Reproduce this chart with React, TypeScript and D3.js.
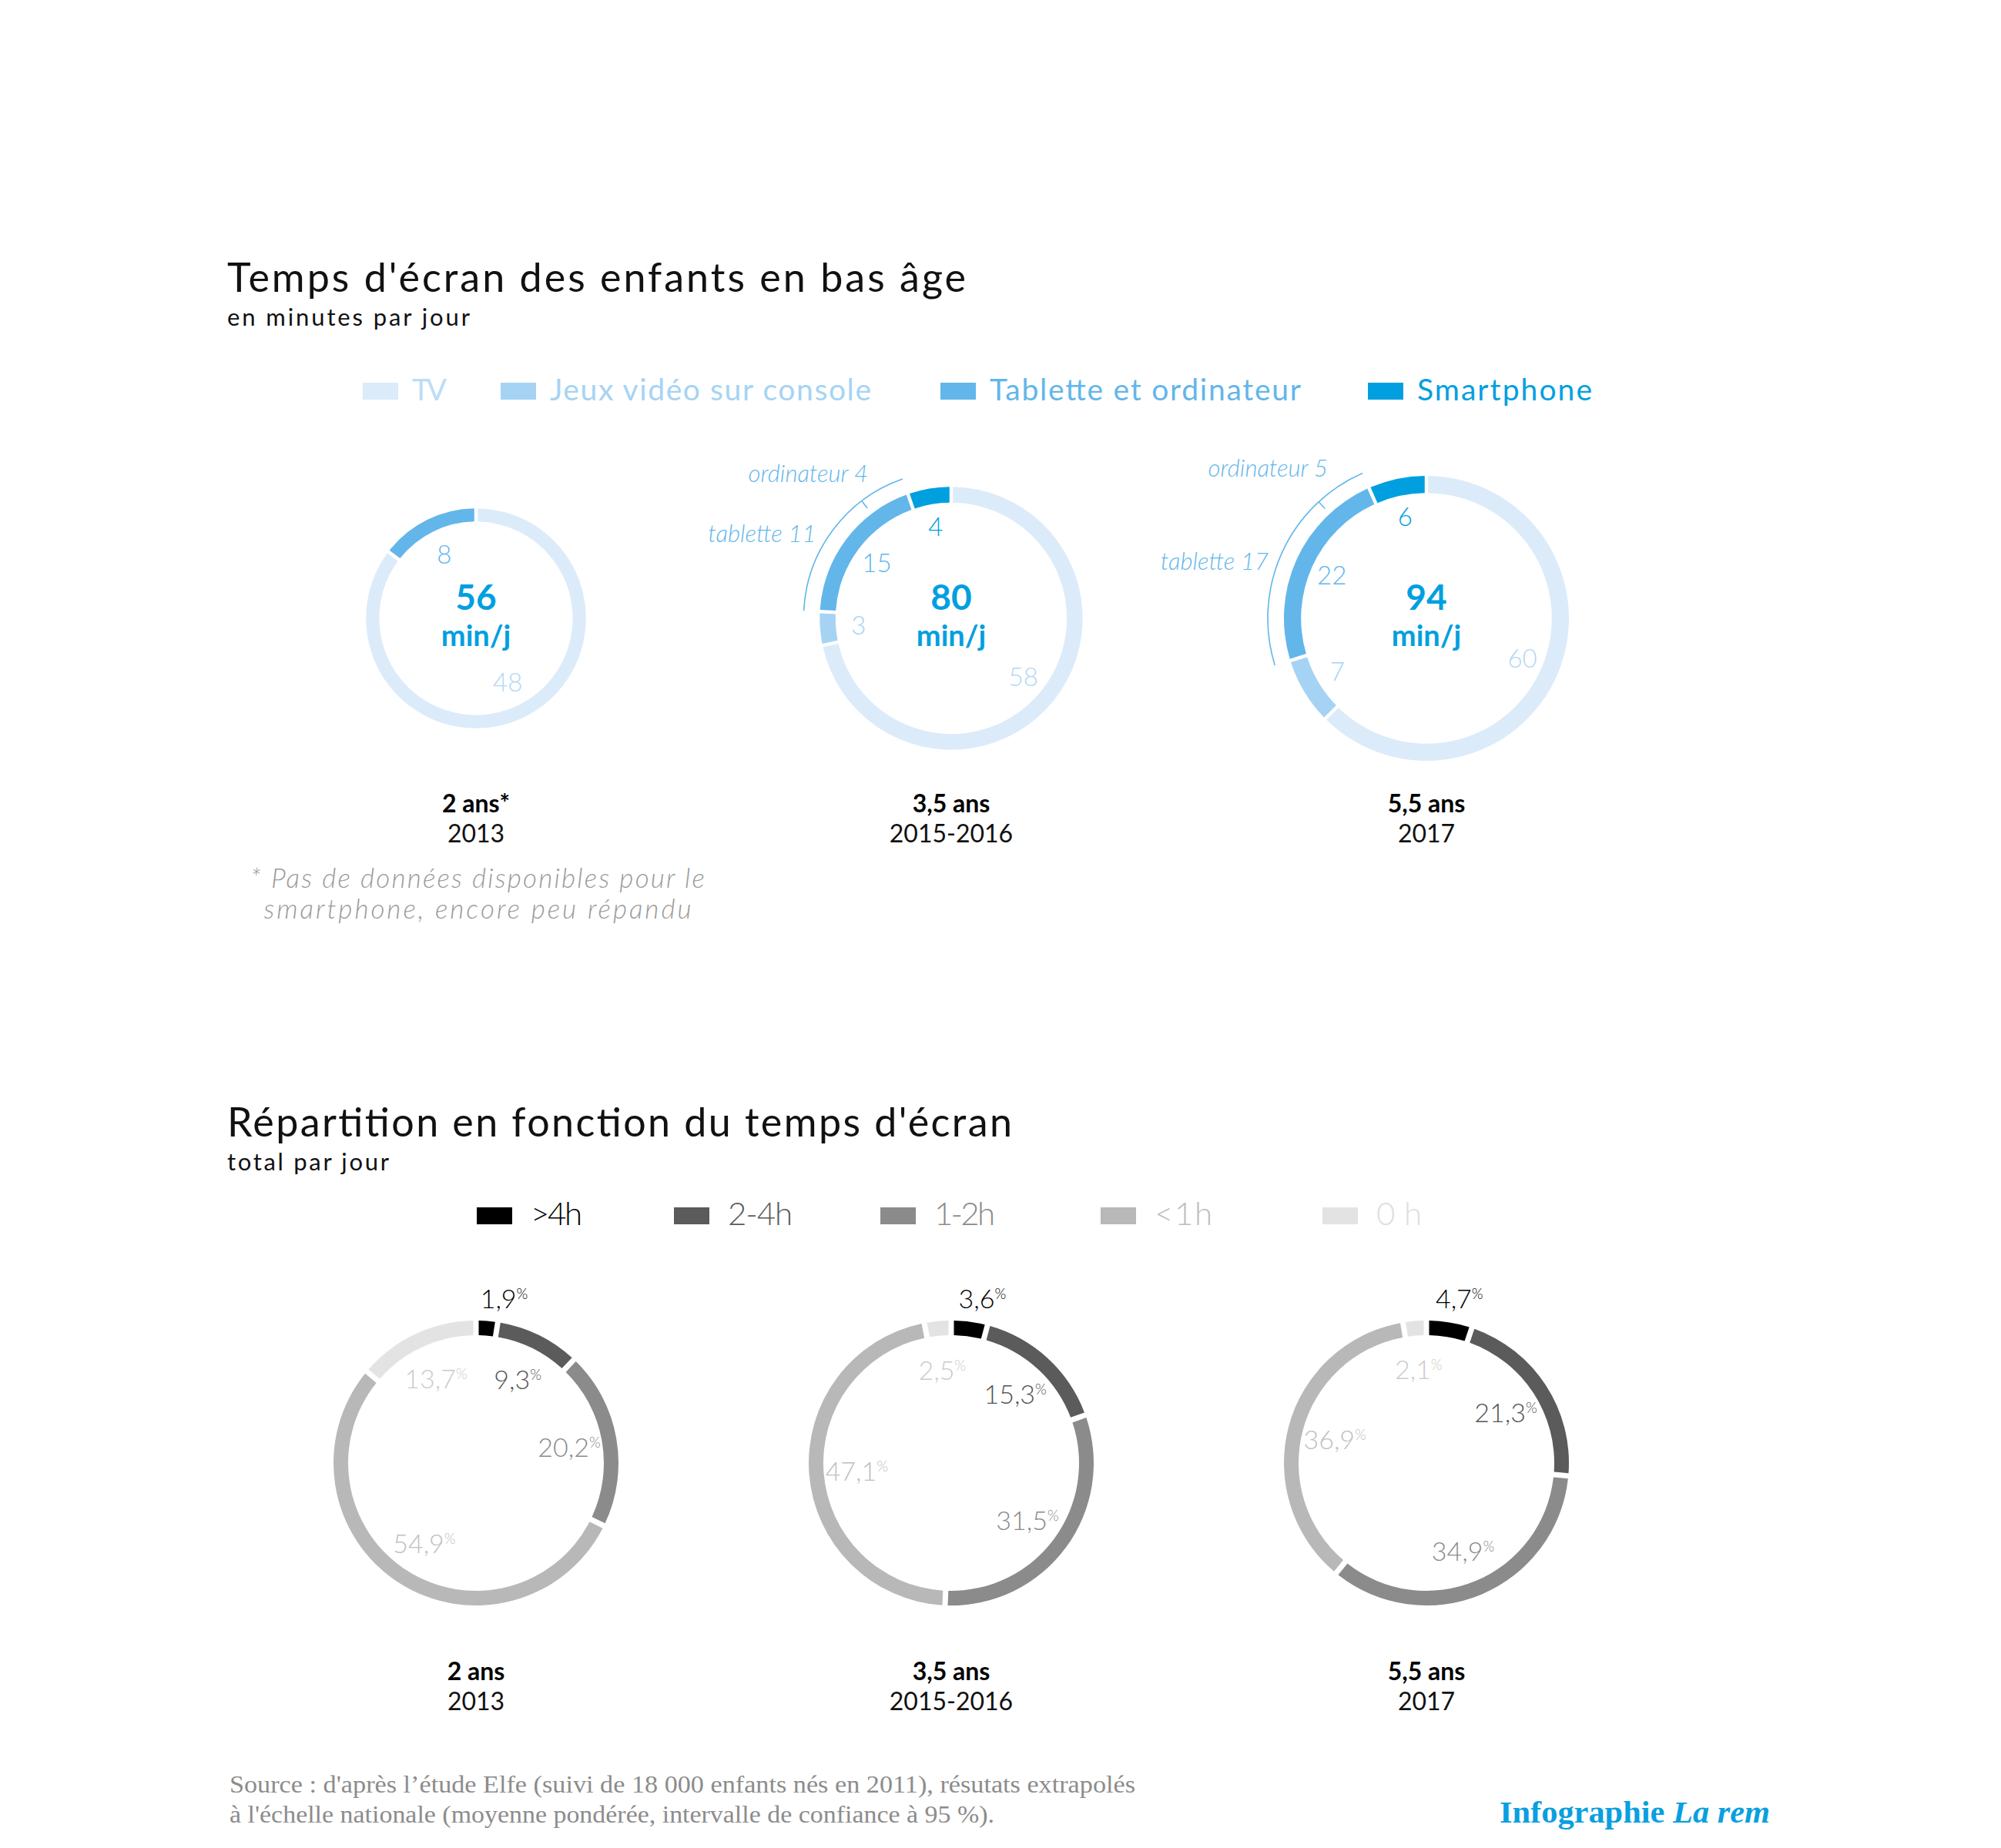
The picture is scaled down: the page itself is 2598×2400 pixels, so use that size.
import React from "react";
import * as d3 from "d3";

// ---------- Data: top (minutes per day) ----------
const topAgeLabels = ["2 ans*", "3,5 ans", "5,5 ans"];
const topYearLabels = ["2013", "2015-2016", "2017"];
const topTotals = [56, 80, 94];
const tvMinutes = [48, 58, 60];
const consoleMinutes = [0, 3, 7];
const tabletComputerMinutes = [8, 15, 22];
const smartphoneMinutes = [0, 4, 6];
const tabletOnlyMinutes = [0, 11, 17];
const computerOnlyMinutes = [0, 4, 5];
const topSeriesNames = ["TV", "Jeux vidéo sur console", "Tablette et ordinateur", "Smartphone"];
const topSeriesColors = ["#dbebfa", "#a6d3f4", "#63b6ea", "#009fe0"];
const topLabelColors = ["#b3d7f4", "#a6d3f4", "#63b6ea", "#009fe0"];
const topLegendTextColors = ["#bcdcf6", "#a6d3f4", "#63b6ea", "#009fe0"];

// ---------- Data: bottom (share by screen time) ----------
const bottomAgeLabels = ["2 ans", "3,5 ans", "5,5 ans"];
const bottomYearLabels = ["2013", "2015-2016", "2017"];
const over4h = [1.9, 3.6, 4.7];
const from2to4h = [9.3, 15.3, 21.3];
const from1to2h = [20.2, 31.5, 34.9];
const under1h = [54.9, 47.1, 36.9];
const zeroHour = [13.7, 2.5, 2.1];
const bottomSeriesNames = [">4h", "2-4h", "1-2h", "<1h", "0 h"];
const bottomSeriesColors = ["#000000", "#5b5b5b", "#8b8b8b", "#b8b8b8", "#e3e3e3"];
const bottomLabelColors = ["#000000", "#555555", "#8a8a8a", "#c0c0c0", "#cbcbcb"];
const bottomLegendTextColors = ["#000000", "#5b5b5b", "#8b8b8b", "#bdbdbd", "#dedede"];

// ---------- Texts ----------
const titleTop = "Temps d'écran des enfants en bas âge";
const subtitleTop = "en minutes par jour";
const titleBottom = "Répartition en fonction du temps d'écran";
const subtitleBottom = "total par jour";
const footnoteLines = ["* Pas de données disponibles pour le", "smartphone, encore peu répandu"];
const sourceLines = [
  "Source : d'après l’étude Elfe (suivi de 18 000 enfants nés en 2011), résutats extrapolés",
  "à l'échelle nationale (moyenne pondérée, intervalle de confiance à 95 %).",
];
const unitLabel = "min/j";

// ---------- Layout (not data) ----------
const W = 2598;
const H = 2400;
const topLegendX = [471, 650, 1221, 1776];
const topLegendTextW = [45, 417, 404, 227];
const bottomLegendX = [619, 875, 1143, 1429, 1717];
const bottomLegendTextW = [67, 84, 79, 75, 59];

const topSeriesValues = [tvMinutes, consoleMinutes, tabletComputerMinutes, smartphoneMinutes];
const bottomSeriesValues = [over4h, from2to4h, from1to2h, under1h, zeroHour];

const SANS = "Lato, 'Open Sans', 'Noto Sans', sans-serif";
const SERIF = "'Liberation Serif', 'DejaVu Serif', serif";

const fmt = (v: number) => v.toFixed(1).replace(".", ",");

export default function App() {
  const x = d3.scalePoint<number>().domain([0, 1, 2]).range([618, 1852]);
  const rTop = d3.scaleSqrt().domain([0, 94]).range([0, 185]);
  const topCy = 803;
  const botCy = 1900;
  const botR = 185;
  const botThick = 19;

  return (
    <svg
      width={W}
      height={H}
      viewBox={`0 0 ${W} ${H}`}
      style={{ position: "absolute", left: 0, top: 0, display: "block", background: "#fff" }}
      fontFamily={SANS}
    >
      <rect x={0} y={0} width={W} height={H} fill="#ffffff" />

      {/* Titles top */}
      <text x={295} y={379} fontSize={52} fill="#111" textLength={959} lengthAdjust="spacing">
        {titleTop}
      </text>
      <text x={295} y={423} fontSize={31} fill="#111" textLength={315} lengthAdjust="spacing">
        {subtitleTop}
      </text>

      {/* Legend top */}
      {topSeriesNames.map((name, k) => (
        <g key={name}>
          <rect x={topLegendX[k]} y={497} width={46} height={22} fill={topSeriesColors[k]} />
          <text
            x={topLegendX[k] + 64}
            y={520}
            fontSize={39}
            fill={topLegendTextColors[k]}
            textLength={topLegendTextW[k]}
            lengthAdjust="spacing"
          >
            {name}
          </text>
        </g>
      ))}

      {/* Top donuts */}
      {topTotals.map((total, i) => {
        const cx = x(i)!;
        const r = rTop(total);
        const thick = r * 0.12;
        const segs = topSeriesNames
          .map((name, k) => ({ k, name, value: topSeriesValues[k][i] }))
          .filter((s) => s.value > 0);
        const pie = d3
          .pie<any>()
          .sort(null)
          .value((d: any) => d.value)
          .padAngle(4.5 / r);
        const arcs = pie(segs);
        const arcGen = d3.arc<any>().innerRadius(r - thick).outerRadius(r).padRadius(r);
        const labelR = r - 50;
        const labelArc = d3.arc<any>().innerRadius(labelR).outerRadius(labelR);

        let bracket: React.ReactNode = null;
        const tab = arcs.find((a: any) => a.data.k === 2);
        if (tab && tabletOnlyMinutes[i] > 0) {
          const rb = r + 21;
          const a0 = tab.startAngle;
          const a1 = tab.endAngle;
          const p = d3.path();
          p.arc(0, 0, rb, a0 - Math.PI / 2, a1 - Math.PI / 2);
          const split = a0 + ((a1 - a0) * tabletOnlyMinutes[i]) / (tabletOnlyMinutes[i] + computerOnlyMinutes[i]);
          const mid = (a0 + split) / 2;
          const pt = (ang: number, rr: number) => [rr * Math.sin(ang), -rr * Math.cos(ang)];
          const t0 = pt(split, rb);
          const t1 = pt(split, rb - 12);
          const tl = pt(mid, rb);
          const ol = pt(a1, rb);
          bracket = (
            <g>
              <path d={p.toString()} fill="none" stroke="#63b6ea" strokeWidth={1.6} />
              <line x1={t0[0]} y1={t0[1]} x2={t1[0]} y2={t1[1]} stroke="#63b6ea" strokeWidth={1.6} />
              <text
                x={tl[0] - 6}
                y={tl[1] - 10}
                textAnchor="end"
                fontSize={31}
                fontStyle="italic"
                fontWeight={300}
                fill="#63b6ea"
              >
                {`tablette ${tabletOnlyMinutes[i]}`}
              </text>
              <text
                x={ol[0] - 45}
                y={ol[1] + 4}
                textAnchor="end"
                fontSize={31}
                fontStyle="italic"
                fontWeight={300}
                fill="#63b6ea"
              >
                {`ordinateur ${computerOnlyMinutes[i]}`}
              </text>
            </g>
          );
        }

        return (
          <g key={"top" + i} transform={`translate(${cx},${topCy})`}>
            {arcs.map((a: any) => (
              <path key={a.data.k} d={arcGen(a) || ""} fill={topSeriesColors[a.data.k]} />
            ))}
            {arcs.map((a: any) => {
              const c = labelArc.centroid(a);
              return (
                <text
                  key={"l" + a.data.k}
                  x={c[0]}
                  y={c[1]}
                  dy="0.36em"
                  textAnchor="middle"
                  fontSize={33}
                  fontWeight={300}
                  fill={topLabelColors[a.data.k]}
                >
                  {a.data.value}
                </text>
              );
            })}
            {bracket}
            <text x={0} y={-11} textAnchor="middle" fontSize={46} fontWeight={700} fill="#009fe0">
              {total}
            </text>
            <text x={0} y={36} textAnchor="middle" fontSize={38} fontWeight={700} fill="#009fe0">
              {unitLabel}
            </text>
          </g>
        );
      })}

      {/* Top category labels */}
      {topAgeLabels.map((lab, i) => (
        <g key={"tc" + i}>
          <text x={x(i)} y={1055} textAnchor="middle" fontSize={32} fontWeight={700} fill="#000">
            {lab}
          </text>
          <text x={x(i)} y={1094} textAnchor="middle" fontSize={32} fill="#111">
            {topYearLabels[i]}
          </text>
        </g>
      ))}

      {/* Footnote */}
      {footnoteLines.map((line, j) => (
        <text
          key={"fn" + j}
          x={620}
          y={1153 + j * 40}
          textAnchor="middle"
          fontSize={35}
          fontStyle="italic"
          fontWeight={300}
          fill="#9a9a9a"
          textLength={j === 0 ? 590 : 555}
          lengthAdjust="spacing"
        >
          {line}
        </text>
      ))}

      {/* Titles bottom */}
      <text x={295} y={1476} fontSize={52} fill="#111" textLength={1019} lengthAdjust="spacing">
        {titleBottom}
      </text>
      <text x={295} y={1520} fontSize={31} fill="#111" textLength={210} lengthAdjust="spacing">
        {subtitleBottom}
      </text>

      {/* Legend bottom */}
      {bottomSeriesNames.map((name, k) => (
        <g key={name}>
          <rect x={bottomLegendX[k]} y={1568} width={46} height={22} fill={bottomSeriesColors[k]} />
          <text
            x={bottomLegendX[k] + 70}
            y={1591}
            fontSize={42}
            fontWeight={300}
            fill={bottomLegendTextColors[k]}
            textLength={bottomLegendTextW[k]}
            lengthAdjust="spacing"
          >
            {name}
          </text>
        </g>
      ))}

      {/* Bottom donuts */}
      {over4h.map((_, i) => {
        const cx = x(i)!;
        const segs = bottomSeriesNames.map((name, k) => ({ k, name, value: bottomSeriesValues[k][i] }));
        const pie = d3
          .pie<any>()
          .sort(null)
          .value((d: any) => d.value)
          .padAngle(7 / botR);
        const arcs = pie(segs);
        const arcGen = d3.arc<any>().innerRadius(botR - botThick).outerRadius(botR).padRadius(botR);
        const labelR = botR - 62;
        const labelArc = d3.arc<any>().innerRadius(labelR).outerRadius(labelR);
        return (
          <g key={"bot" + i} transform={`translate(${cx},${botCy})`}>
            {arcs.map((a: any) => (
              <path key={a.data.k} d={arcGen(a) || ""} fill={bottomSeriesColors[a.data.k]} />
            ))}
            {arcs.map((a: any) => {
              let tx: number;
              let ty: number;
              let anchor = "middle";
              if (a.data.k === 0) {
                const midA = (a.startAngle + a.endAngle) / 2;
                tx = botR * Math.sin(midA) * 0.4;
                ty = -botR - 16;
                anchor = "start";
              } else {
                const c = labelArc.centroid(a);
                tx = c[0];
                ty = c[1] + 14;
              }
              return (
                <text
                  key={"l" + a.data.k}
                  x={tx}
                  y={ty}
                  textAnchor={anchor}
                  fontSize={34}
                  fontWeight={300}
                  fill={bottomLabelColors[a.data.k]}
                >
                  {fmt(a.data.value)}
                  <tspan fontSize={19} dy={-12}>
                    %
                  </tspan>
                </text>
              );
            })}
          </g>
        );
      })}

      {/* Bottom category labels */}
      {bottomAgeLabels.map((lab, i) => (
        <g key={"bc" + i}>
          <text x={x(i)} y={2182} textAnchor="middle" fontSize={32} fontWeight={700} fill="#000">
            {lab}
          </text>
          <text x={x(i)} y={2221} textAnchor="middle" fontSize={32} fill="#111">
            {bottomYearLabels[i]}
          </text>
        </g>
      ))}

      {/* Source */}
      {sourceLines.map((line, j) => (
        <text
          key={"src" + j}
          x={298}
          y={2328 + j * 39}
          fontFamily={SERIF}
          fontSize={31}
          fill="#8c8c8c"
          textLength={j === 0 ? 1176 : 993}
          lengthAdjust="spacingAndGlyphs"
        >
          {line}
        </text>
      ))}

      {/* Credit */}
      <text
        x={1947}
        y={2367}
        fontFamily={SERIF}
        fontSize={40}
        fontWeight={700}
        fill="#0a9fe0"
        textLength={351}
        lengthAdjust="spacingAndGlyphs"
      >
        Infographie <tspan fontStyle="italic">La rem</tspan>
      </text>
    </svg>
  );
}
